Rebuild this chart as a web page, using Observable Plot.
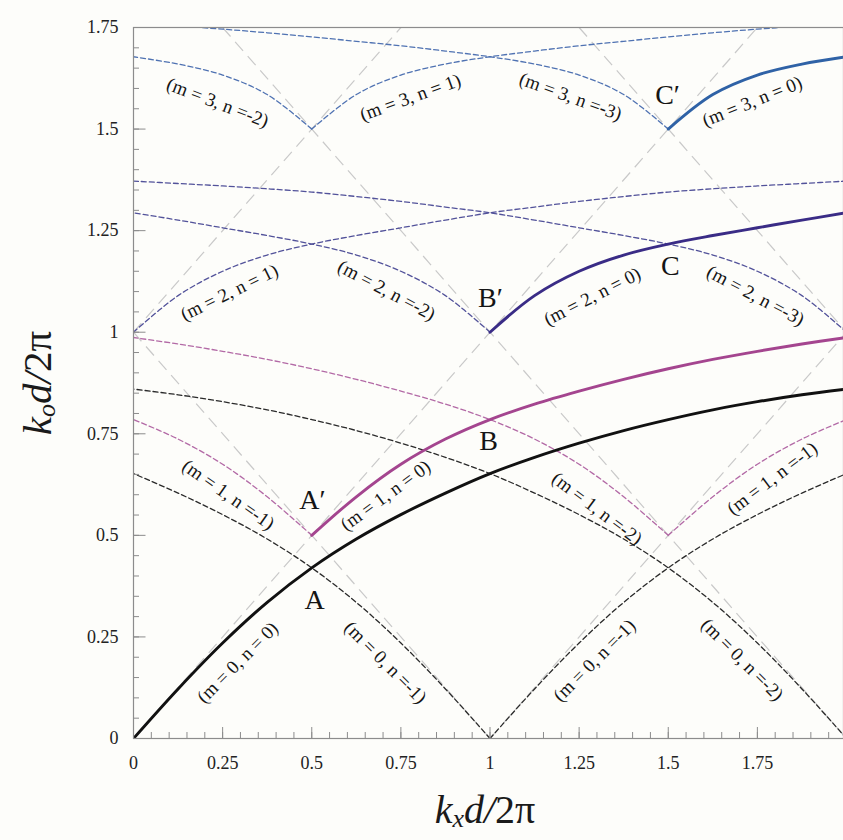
<!DOCTYPE html>
<html>
<head>
<meta charset="utf-8">
<script src="https://cdn.jsdelivr.net/npm/d3@7"></script>
<script src="https://cdn.jsdelivr.net/npm/@observablehq/plot@0.6"></script>
<style>
  html, body { margin: 0; padding: 0; background: #fdfdfa; }
  #chart { width: 843px; height: 840px; overflow: hidden; }
</style>
</head>
<body>
<div id="chart"></div>
<script>
// distance t (in kx d/2π) from a branch's cusp, and k0 d/2π per family m
const tSamples = [0, 0.125, 0.25, 0.375, 0.5, 0.625, 0.75, 0.875, 1, 1.125, 1.25, 1.375, 1.5, 1.625, 1.75, 1.875, 2];
const k0M0 = [0, 0.122, 0.235, 0.335, 0.42, 0.491, 0.551, 0.604, 0.652, 0.692, 0.727, 0.758, 0.785, 0.809, 0.829, 0.846, 0.86];
const k0M1 = [0.5, 0.595, 0.675, 0.737, 0.785, 0.823, 0.855, 0.884, 0.91, 0.933, 0.953, 0.971, 0.987];
const k0M2 = [1.0, 1.09, 1.15, 1.19, 1.217, 1.238, 1.257, 1.276, 1.294, 1.308, 1.322, 1.334, 1.345, 1.353, 1.36, 1.366, 1.372];
const k0M3 = [1.5, 1.585, 1.633, 1.66, 1.678, 1.692, 1.705, 1.716, 1.727, 1.737, 1.746, 1.754, 1.762];

// branches: family m, cusp kx, direction, extent, solid (n = 0 mode)
const branchM    = [0, 0, 0, 0,   1, 1, 1, 1,   2, 2, 2, 2,   3, 3, 3, 3];
const branchCusp = [0, 1, 1, 2,   0.5, 0.5, 1.5, 1.5,   0, 1, 1, 2,   0.5, 0.5, 1.5, 1.5];
const branchDir  = [1, -1, 1, -1,  -1, 1, -1, 1,   1, -1, 1, -1,   -1, 1, -1, 1];
const branchTMax = [2, 1, 1, 2,   0.5, 1.5, 1.5, 0.5,   2, 1, 1, 2,   0.5, 1.5, 1.5, 0.5];
const branchSolid = [true, false, false, false,  false, true, false, false,  false, false, true, false,  false, false, false, true];

// light lines (gray dashed), endpoints in data units
const lightX1 = [0, 0, 1, 0.25, 0, 1.25];
const lightY1 = [0, 1, 0, 1.75, 1, 1.75];
const lightX2 = [1.75, 1, 2, 2, 0.75, 2];
const lightY2 = [1.75, 0, 1, 0, 1.75, 1];

const xTicks = [0, 0.25, 0.5, 0.75, 1, 1.25, 1.5, 1.75, 2];
const xTickLabels = [0, 0.25, 0.5, 0.75, 1, 1.25, 1.5, 1.75];
const yTicks = [0, 0.25, 0.5, 0.75, 1, 1.25, 1.5, 1.75];
const xMinor = d3.range(0, 41).map(i => i * 0.05);
const yMinor = d3.range(0, 36).map(i => i * 0.05);

// mode labels
const labelText = [
  "(m = 3, n =-2)", "(m = 3, n = 1)", "(m = 3, n =-3)", "(m = 3, n = 0)",
  "(m = 2, n = 1)", "(m = 2, n =-2)", "(m = 2, n = 0)", "(m = 2, n =-3)",
  "(m = 1, n =-1)", "(m = 1, n = 0)", "(m = 1, n =-2)", "(m = 1, n =-1)",
  "(m = 0, n = 0)", "(m = 0, n =-1)", "(m = 0, n =-1)", "(m = 0, n =-2)"
];
const labelX = [0.236, 0.777, 1.226, 1.736,  0.269, 0.71, 1.287, 1.745,  0.266, 0.707, 1.30, 1.792,  0.292, 0.707, 1.293, 1.708];
const labelY = [1.565, 1.578, 1.580, 1.568,  1.098, 1.103, 1.088, 1.09,  0.60, 0.598, 0.566, 0.64,  0.187, 0.187, 0.192, 0.194];
const labelAngle = [21, -20, 20, -22,  -26, 28, -27, 28,  35, -36, 37, -37,  -45, 45, -45, 45];

const pointText = ["A", "A′", "B", "B′", "C", "C′"];
const pointX = [0.508, 0.502, 0.996, 1.001, 1.506, 1.498];
const pointY = [0.34, 0.586, 0.731, 1.085, 1.164, 1.583];

// ---- build tables ----
const familyValues = [k0M0, k0M1, k0M2, k0M3];
const solidColor = ["#111111", "#a4458f", "#3a2c86", "#2f62a6"];
const dashColor  = ["#2a2a2a", "#b36aa6", "#52529a", "#4f72b2"];

const curveRows = [];
branchM.forEach((m, b) => {
  const vals = familyValues[m];
  vals.forEach((v, i) => {
    const t = tSamples[i];
    if (t <= branchTMax[b] + 1e-9) {
      curveRows.push({branch: b, m, solid: branchSolid[b], kx: branchCusp[b] + branchDir[b] * t, k0: v});
    }
  });
});
const dashedRows = curveRows.filter(d => !d.solid);
const solidRows = curveRows.filter(d => d.solid);

const lightRows = lightX1.map((x1, i) => ({x1, y1: lightY1[i], x2: lightX2[i], y2: lightY2[i]}));
const labelRows = labelText.map((text, i) => ({text, x: labelX[i], y: labelY[i], a: labelAngle[i]}));
const pointRows = pointText.map((text, i) => ({text, x: pointX[i], y: pointY[i]}));

const serif = "'Liberation Serif', 'DejaVu Serif', serif";
const axisColor = "#8c8c8c";

const chart = Plot.plot({
  width: 843,
  height: 840,
  marginLeft: 133,
  marginTop: 27,
  marginBottom: 102,
  marginRight: 0,
  style: {background: "#fdfdfa", fontFamily: serif, color: "#222"},
  x: {domain: [0, 2], range: [133, 846], label: null},
  y: {domain: [0, 1.75], range: [738, 27], label: null},
  marks: [
    Plot.link(lightRows, {x1: "x1", y1: "y1", x2: "x2", y2: "y2", stroke: "#c9c9c9", strokeWidth: 1.2, strokeDasharray: "12,7"}),
    Plot.line(dashedRows, {x: "kx", y: "k0", z: "branch", stroke: d => dashColor[d.m], strokeWidth: 1.3, strokeDasharray: "5,3", curve: "catmull-rom", clip: true}),
    Plot.line(solidRows, {x: "kx", y: "k0", z: "branch", stroke: d => solidColor[d.m], strokeWidth: 2.9, curve: "catmull-rom", clip: true}),
    Plot.frame({stroke: axisColor, strokeWidth: 1.2}),
    Plot.axisX(xMinor, {anchor: "bottom", tickSize: -6, fill: "none", stroke: axisColor, label: null}),
    Plot.axisX(xTicks, {anchor: "bottom", tickSize: -11, fill: "none", stroke: axisColor, label: null}),
    Plot.axisX(xTickLabels, {anchor: "bottom", tickSize: 0, tickPadding: 18, fontSize: 18, fill: "#222", tickFormat: d => String(d), label: null}),
    Plot.axisY(yMinor, {anchor: "left", tickSize: -6, fill: "none", stroke: axisColor, label: null}),
    Plot.axisY(yTicks, {anchor: "left", tickSize: -12.5, fill: "none", stroke: axisColor, label: null}),
    Plot.axisY(yTicks, {anchor: "left", tickSize: 0, tickPadding: 15, fontSize: 18, fill: "#222", tickFormat: d => String(d), label: null}),
    Plot.text(labelRows, {x: "x", y: "y", text: "text", rotate: "a", fontSize: 19, fill: "#151515", fontFamily: serif}),
    Plot.text(pointRows, {x: "x", y: "y", text: "text", fontSize: 28, fill: "#151515", fontFamily: serif})
  ]
});

document.getElementById("chart").appendChild(chart);

// axis titles
const svg = d3.select(chart);
const xt = svg.append("text")
  .attr("x", 485).attr("y", 823)
  .attr("text-anchor", "middle")
  .style("font-family", serif).style("font-size", "40px").attr("fill", "#1a1a1a");
xt.append("tspan").style("font-style", "italic").text("k");
xt.append("tspan").style("font-style", "italic").style("font-size", "26px").attr("dy", 4).text("x");
xt.append("tspan").style("font-style", "italic").attr("dy", -4).text("d/");
xt.append("tspan").text("2π");

const yt = svg.append("text")
  .attr("transform", `translate(51, 383) rotate(-90)`)
  .attr("text-anchor", "middle")
  .style("font-family", serif).style("font-size", "41px").attr("fill", "#1a1a1a");
yt.append("tspan").style("font-style", "italic").text("k");
yt.append("tspan").style("font-style", "italic").style("font-size", "26px").attr("dy", 4).text("o");
yt.append("tspan").style("font-style", "italic").attr("dy", -4).text("d/");
yt.append("tspan").text("2π");
</script>
</body>
</html>
